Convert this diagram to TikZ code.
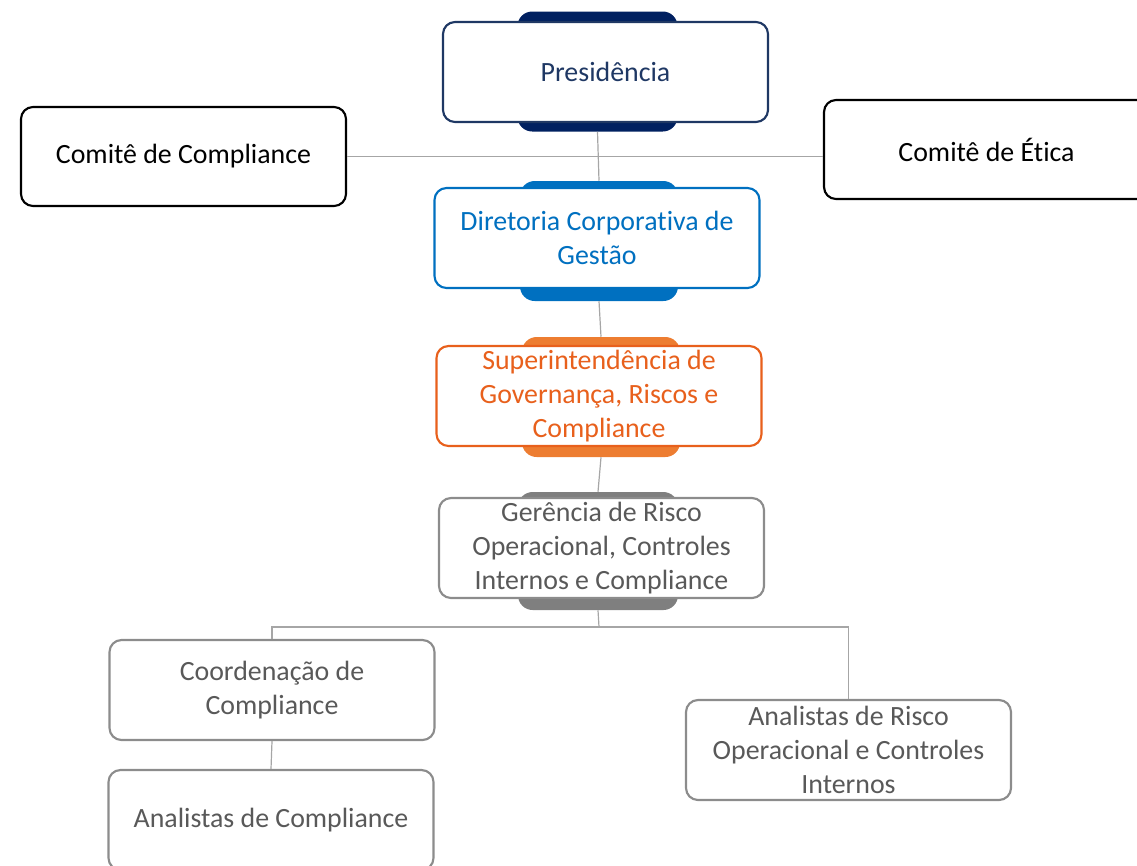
\documentclass[tikz,border=0pt]{standalone}
\usepackage{fontspec}
\setmainfont[RawFeature={-liga;-dlig}]{Carlito}
\definecolor{navy}{HTML}{002060}
\definecolor{navytext}{HTML}{1F3864}
\definecolor{blu}{HTML}{0070C0}
\definecolor{orng}{HTML}{ED7D31}
\definecolor{orngtext}{HTML}{E8601C}
\definecolor{gtab}{HTML}{7F7F7F}
\definecolor{gline}{HTML}{8C8C8C}
\definecolor{gtext}{HTML}{595959}
\definecolor{conn}{HTML}{A6A6A6}
\begin{document}
\begin{tikzpicture}[x=0.75pt,y=-0.75pt,
  box/.style={draw, line width=1.6pt, rounded corners=9pt, fill=white,
    minimum width=243.75pt, minimum height=75pt, inner sep=0pt, align=center,
    font=\fontsize{20.9}{25.2}\selectfont},
  tabbox/.style={rounded corners=11pt, minimum width=120pt, minimum height=90pt, inner sep=0pt},
  connector/.style={draw=conn, line width=0.9pt}
]
\useasboundingbox (0,0) rectangle (1137,865);
% tabs
\node[tabbox, fill=navy] (pt) at (597.5,71.5) {};
\node[tabbox, fill=blu, minimum width=118.5pt] (dt) at (599,241) {};
\node[tabbox, fill=orng, minimum width=118.5pt] (st) at (601,397) {};
\node[tabbox, fill=gtab, minimum height=88.5pt] (gt) at (598,551) {};
% boxes
\node[box, draw=navytext, text=navytext] (p) at (605.5,72) {Presidência};
\node[box, draw=blu, text=blu] (d) at (597,238) {Diretoria Corporativa de\\Gestão};
\node[box, draw=orngtext, text=orngtext] (s) at (599,396) {Superintendência de\\Governança, Riscos e\\Compliance};
\node[box, draw=gline, text=gtext] (g) at (601.5,548) {Gerência de Risco\\Operacional, Controles\\Internos e Compliance};
\node[box, draw=black, text=black, minimum height=74.25pt] (cc) at (183.5,156.5) {Comitê de Compliance};
\node[box, draw=black, text=black, minimum height=74.25pt] (ce) at (986.5,149.5) {Comitê de Ética};
\node[box, draw=gline, text=gtext] (co) at (272,690) {Coordenação de\\Compliance};
\node[box, draw=gline, text=gtext] (ac) at (271,820) {Analistas de Compliance};
\node[box, draw=gline, text=gtext] (ar) at (848.5,750) {Analistas de Risco\\Operacional e Controles\\Internos};
% connectors
\coordinate (j) at (599,627);
\draw[connector] (pt.south) -- (dt.north);
\draw[connector] (dt.south) -- (st.north);
\draw[connector] (st.south) -- (gt.north);
\draw[connector] (cc.east) -- (cc.east -| ce.west);
\draw[connector] (gt.south) -- (j);
\draw[connector] (j) -| (co.north);
\draw[connector] (j) -| (ar.north);
\draw[connector] (co.south) -- (ac.north);
\end{tikzpicture}
\end{document}
